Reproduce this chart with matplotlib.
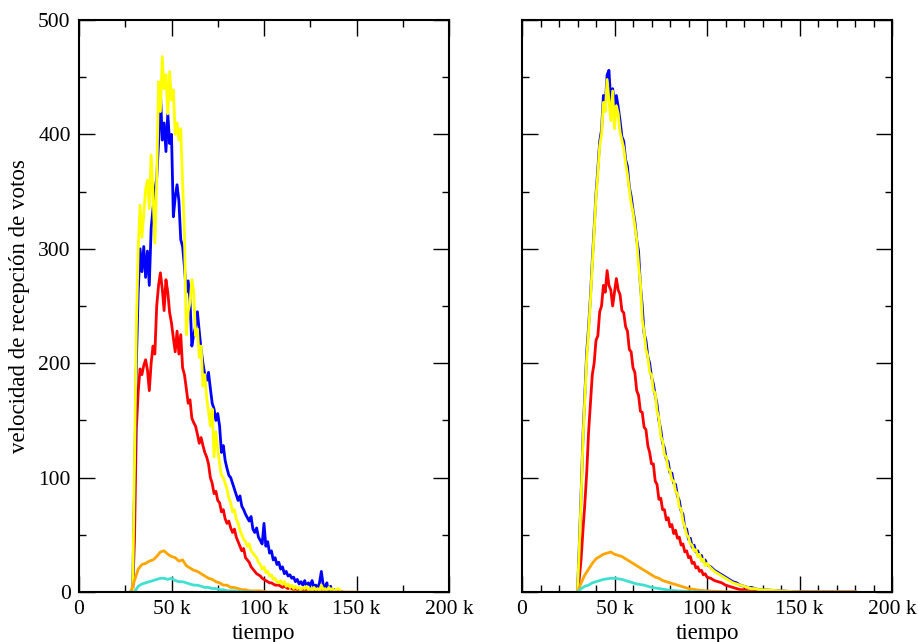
import numpy as np
import matplotlib
matplotlib.use("Agg")
import matplotlib.pyplot as plt
from matplotlib.ticker import MultipleLocator, FuncFormatter

plt.rcParams['font.family'] = ['Liberation Serif', 'DejaVu Serif']

# ---------------- left panel (time in thousands) ----------------
left_t = list(range(28, 143))

left_blue = [
    0, 0, 90, 200, 262, 300, 280, 302, 275, 298,
    268, 318, 335, 350, 362, 392, 438, 395, 410, 385,
    418, 392, 400, 328, 345, 356, 342, 308, 302, 284,
    262, 272, 255, 215, 225, 232, 245, 228, 212, 200,
    190, 185, 192, 178, 165, 160, 150, 156, 145, 122,
    128, 115, 108, 102, 100, 95, 90, 85, 80, 84,
    75, 72, 68, 65, 62, 66, 55, 52, 56, 48,
    45, 42, 60, 40, 44, 34, 36, 28, 30, 24,
    26, 20, 22, 16, 18, 14, 15, 12, 13, 9,
    11, 7, 9, 6, 10, 5, 8, 6, 10, 4,
    6, 3, 8, 18, 6, 4, 8, -3, 5, 0,
    2, 0, 0, 0, 0,
]

left_yellow = [
    0, 0, 110, 230, 300, 338, 310, 330, 352, 360,
    335, 382, 348, 305, 360, 446, 420, 468, 440, 452,
    418, 455, 430, 439, 400, 410, 395, 405, 358, 312,
    225, 245, 253, 273, 262, 224, 230, 205, 215, 180,
    190, 170, 158, 145, 160, 118, 140, 125, 112, 102,
    100, 95, 90, 82, 78, 70, 72, 64, 60, 54,
    50, 46, 44, 40, 42, 36, 34, 32, 30, 26,
    24, 20, 22, 17, 18, 14, 15, 11, 12, 9,
    8, 10, 7, 9, 5, 7, 4, 6, 3, 5,
    3, 4, 2, 4, 3, 5, 2, 3, 1, 4,
    2, 3, 1, 6, 2, 3, 1, 4, 2, 3,
    1, 2, 3, 2, 0,
]

left_red = [
    0, 0, 45, 142, 175, 195, 190, 198, 203, 194,
    176, 200, 215, 208, 250, 268, 279, 265, 246, 273,
    262, 244, 235, 222, 210, 228, 208, 225, 196, 190,
    178, 165, 168, 152, 148, 145, 138, 130, 135, 128,
    122, 118, 112, 100, 95, 86, 88, 80, 78, 70,
    72, 64, 60, 62, 56, 52, 55, 48, 44, 40,
    36, 38, 30, 28, 26, 22, 20, 18, 16, 15,
    14, 12, 11, 10, 9, 8, 8, 7, 6, 6,
    6, 5, 4, 5, 4, 3, 4, 3, 2, 3,
    2, 3, 2, 2, 3, 1, 2, 1, 2, 1,
    1, 2, 1, 5, 1, 1, 2, 0, 1, 0,
    0, 0, 0, 0, 0,
]

left_t_orange = list(range(28, 151, 2))
left_orange = [
    0, 10, 20, 24, 25, 27, 28, 31, 35, 36,
    33, 31, 30, 27, 28, 23, 21, 19, 18, 16,
    14, 12, 11, 9, 8, 6, 6, 4, 4, 3,
    2, 2, 1, 1, 1, 1, 0.5,
    0, 0, 0, 0, 0, 0, 0, 0, 0, 0, 0, 0, 0,
    0, 0, 0, 0, 0, 0, 0, 0, 0, 0, 0, 0,
]

left_t_turq = list(range(28, 95, 2))
left_turq = [
    0, 0, 5, 7, 8, 9, 10, 11, 12, 12,
    11, 12, 10, 9, 9, 8, 7, 6, 6, 5,
    4, 4, 3, 3, 2, 2, 1, 1, 1, 0.5,
    0.5, 0, 0, 0,
]

# ---------------- right panel ----------------
right_t = list(range(30, 101)) + list(range(102, 131, 2)) + [140, 150, 160, 170, 180]

right_blue = [
    0, 42, 88, 138, 174, 210, 232, 258, 290, 318,
    348, 370, 394, 404, 434, 426, 452, 456, 428, 440,
    426, 434, 424, 412, 398, 394, 378, 372, 354, 346,
    334, 324, 308, 298, 268, 250, 226, 220, 206, 200,
    188, 182, 172, 164, 150, 142, 130, 126, 116, 114,
    104, 104, 95, 94, 84, 80, 71, 68, 56, 55,
    46, 47, 39, 41, 35, 36, 31, 32, 27, 28,
    24,
    22, 19, 17, 15, 13, 11, 9, 8, 6, 5, 4, 4, 3, 2, 2,
    1, 0, 0, 0, 0,
]

right_yellow = [
    0, 40, 85, 135, 170, 205, 228, 255, 286, 315,
    345, 366, 390, 400, 428, 420, 448, 430, 412, 438,
    405, 425, 418, 402, 395, 388, 375, 365, 352, 340,
    332, 320, 308, 286, 270, 238, 228, 212, 206, 192,
    190, 176, 174, 158, 152, 136, 132, 120, 118, 108,
    106, 98, 97, 88, 86, 74, 73, 62, 57, 50,
    48, 42, 41, 36, 37, 31, 33, 27, 29, 23,
    25,
    21, 18, 16, 14, 12, 10, 8, 7, 6, 5, 4, 3, 3, 2, 2,
    1, 0, 0, 0, 0,
]

right_red = [
    0, 12, 30, 55, 78, 105, 140, 165, 190, 200,
    220, 224, 245, 250, 268, 262, 281, 268, 264, 250,
    262, 274, 264, 260, 246, 244, 232, 228, 212, 210,
    196, 192, 176, 172, 158, 157, 144, 142, 128, 122,
    112, 112, 97, 94, 81, 82, 72, 72, 63, 65,
    57, 59, 51, 54, 47, 48, 41, 42, 35, 36,
    30, 31, 25, 26, 21, 22, 18, 19, 15, 16,
    13,
    12, 10, 9, 8, 6, 5, 4, 3, 2, 2, 1, 1, 1, 0, 0,
    0, 0, 0, 0, 0,
]

right_t_orange = list(range(30, 131, 2)) + [140, 150, 160, 170, 180]
right_orange = [
    0, 8, 15, 20, 25, 29, 31, 33, 34, 35,
    33, 32, 31, 29, 27, 25, 23, 21, 19, 17,
    15, 13, 12, 10, 9, 8, 7, 6, 5, 4,
    3, 2.5, 2, 1.5, 1.2, 1, 0.8, 0.6, 0.5, 0.4,
    0.3, 0.2,
    0, 0, 0, 0, 0, 0, 0, 0, 0,
    0, 0, 0, 0, 0,
]

right_t_turq = list(range(30, 101, 2))
right_turq = [
    0, 3, 5, 6, 8, 9, 10, 11, 11.5, 12,
    12, 11.5, 11, 10, 9, 8, 7, 6.5, 6, 5,
    4, 3.5, 3, 2.5, 2, 1.5, 1.2, 1, 0.8, 0.6,
    0.4, 0.3, 0.2, 0.1, 0, 0,
]

x_tick_labels = ["0", "50 k", "100 k", "150 k", "200 k"]

BLUE = "#0000ff"
YELLOW = "#ffff00"
RED = "#ff0000"
ORANGE = "#ffa500"
TURQ = "#40e0d0"
LW = 2.0

fig = plt.figure(figsize=(9.18, 6.42), dpi=100)
ax1 = fig.add_axes([79 / 918, 50 / 642, 370 / 918, 572 / 642])
ax2 = fig.add_axes([522 / 918, 50 / 642, 370 / 918, 572 / 642])


def k(ts):
    return np.asarray(ts, dtype=float) * 1000.0


ax1.plot(k(left_t), left_red, color=RED, lw=LW)
ax1.plot(k(left_t), left_blue, color=BLUE, lw=LW)
ax1.plot(k(left_t), left_yellow, color=YELLOW, lw=LW)
ax1.plot(k(left_t_orange), left_orange, color=ORANGE, lw=LW)
ax1.plot(k(left_t_turq), left_turq, color=TURQ, lw=LW)

ax2.plot(k(right_t), right_red, color=RED, lw=LW)
ax2.plot(k(right_t), right_blue, color=BLUE, lw=LW)
ax2.plot(k(right_t), right_yellow, color=YELLOW, lw=LW)
ax2.plot(k(right_t_orange), right_orange, color=ORANGE, lw=LW)
ax2.plot(k(right_t_turq), right_turq, color=TURQ, lw=LW)


def fmt_k(v, pos):
    i = int(round(v / 50000))
    if 0 <= i < len(x_tick_labels):
        return x_tick_labels[i]
    return ""


for ax, minor_x in ((ax1, 25000), (ax2, 10000)):
    ax.set_xlim(0, 200000)
    ax.set_ylim(0, 500)
    ax.xaxis.set_major_locator(MultipleLocator(50000))
    ax.xaxis.set_minor_locator(MultipleLocator(minor_x))
    ax.yaxis.set_major_locator(MultipleLocator(100))
    ax.yaxis.set_minor_locator(MultipleLocator(50))
    ax.xaxis.set_major_formatter(FuncFormatter(fmt_k))
    ax.tick_params(which="both", direction="in", top=True, right=True,
                   width=1.0, color="black", labelsize=15.5, labelcolor="black")
    ax.tick_params(which="major", length=11.5)
    ax.tick_params(which="minor", length=5)
    ax.tick_params(axis="x", which="major", pad=6)
    ax.tick_params(axis="y", which="major", pad=6)
    for s in ax.spines.values():
        s.set_linewidth(1.5)
        s.set_color("black")
    ax.set_xlabel("tiempo", fontsize=16.5, labelpad=2.5)

ax2.tick_params(axis="y", which="both", labelleft=False)
ax1.set_ylabel("velocidad de recepción de votos", fontsize=16.5, labelpad=6)

fig.savefig("out.png", dpi=100)
